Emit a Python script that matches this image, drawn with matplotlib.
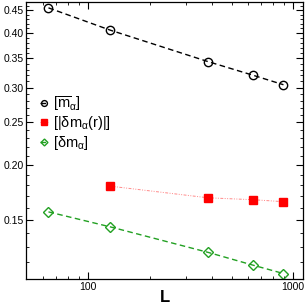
import numpy as np
import matplotlib
matplotlib.use("Agg")
import matplotlib.pyplot as plt
from matplotlib.ticker import FixedLocator, FixedFormatter, NullFormatter

plt.rcParams['font.family'] = ['Liberation Sans', 'DejaVu Sans']
plt.rcParams['mathtext.fontset'] = 'custom'
plt.rcParams['mathtext.rm'] = 'Liberation Sans'
plt.rcParams['mathtext.it'] = 'Liberation Sans'
plt.rcParams['mathtext.bf'] = 'Liberation Sans:bold'

# system sizes
L_all = [64, 128, 384, 640, 896]
L_red = [128, 384, 640, 896]

# mean order parameter [m_alpha]
m_mean = [0.456, 0.4057, 0.344, 0.320, 0.3047]
# [|dm_alpha(r)|]
dm_r = [0.179, 0.1684, 0.1667, 0.165]
# [dm_alpha]
dm = [0.1564, 0.1446, 0.1265, 0.1182, 0.1132]

y_major = [0.15, 0.20, 0.25, 0.30, 0.35, 0.40, 0.45]
y_labels = ["0.15", "0.20", "0.25", "0.30", "0.35", "0.40", "0.45"]

fig = plt.figure(figsize=(3.07, 3.07), dpi=100)
ax = fig.add_axes([0.0863, 0.0912, 0.9017, 0.9007])

ax.plot(L_all, m_mean, color='black', ls=(0, (4, 2.5)), lw=1.0,
        marker='o', mfc='none', mec='black', ms=6, mew=1.0,
        label=r'$[\overline{m}_{\alpha}]$')
ax.plot(L_red, dm_r, color='#ff8a8a', ls=(0, (3, 1.5, 1, 1.5, 1, 1.5)), lw=0.7,
        marker='s', mfc='red', mec='red', ms=5.5,
        label=r'$[|\delta m_{\alpha}(r)|]$')
ax.plot(L_all, dm, color='#22a022', ls=(0, (4, 2.5)), lw=1.0,
        marker='D', mfc='none', mec='#22a022', ms=5, mew=1.0,
        label=r'$[\delta m_{\alpha}]$')

ax.set_xscale('log')
ax.set_yscale('log')
ax.set_xlim(50, 1120)
ax.set_ylim(0.110, 0.469)

ax.xaxis.set_major_locator(FixedLocator([100, 1000]))
ax.xaxis.set_major_formatter(FixedFormatter(["100", "1000"]))
x_minor = [60, 70, 80, 90, 200, 300, 400, 500, 600, 700, 800, 900]
ax.xaxis.set_minor_locator(FixedLocator(x_minor))
ax.xaxis.set_minor_formatter(NullFormatter())

ax.yaxis.set_major_locator(FixedLocator(y_major))
ax.yaxis.set_major_formatter(FixedFormatter(y_labels))
y_minor = [v / 100 for v in range(11, 47) if v % 5 != 0]
ax.yaxis.set_minor_locator(FixedLocator(y_minor))
ax.yaxis.set_minor_formatter(NullFormatter())

ax.tick_params(which='both', direction='in', top=True, right=True,
               labelsize=7.5, pad=2)
ax.tick_params(which='major', length=5, width=0.8)
ax.tick_params(which='minor', length=2.5, width=0.6)
for sp in ax.spines.values():
    sp.set_linewidth(0.9)

ax.set_xlabel('L', fontsize=12, fontweight='bold', labelpad=-1)

ax.legend(loc='upper left', bbox_to_anchor=(0.0, 0.715), frameon=False,
          fontsize=10.5, handlelength=0.6, handletextpad=0.3,
          labelspacing=0.1, markerscale=0.7, borderaxespad=0.5)

fig.savefig('out.png', dpi=100)
